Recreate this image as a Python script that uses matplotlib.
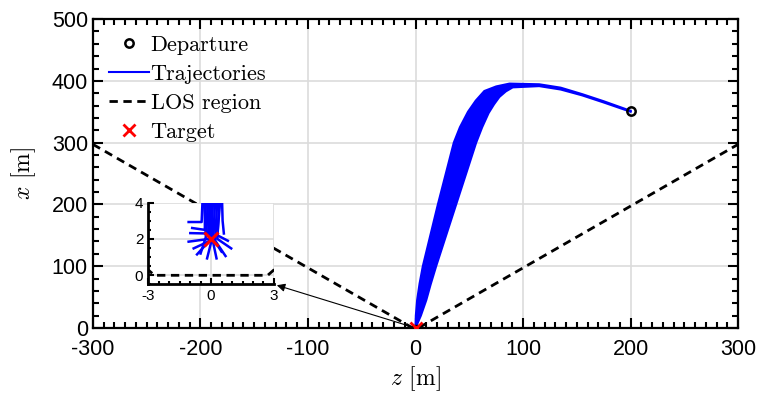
import numpy as np
import matplotlib
matplotlib.use("Agg")
import matplotlib.pyplot as plt
from matplotlib.ticker import MultipleLocator

plt.rcParams.update({
    "font.family": ["Liberation Sans", "DejaVu Sans"],
    "mathtext.fontset": "cm",
    "axes.unicode_minus": False,
})

BLUE = "#0000ff"
GRID = "#dcdcdc"

# departure and target
dep_z, dep_x = [200], [351]
tgt_z, tgt_x = [0], [0]

# outer / inner edge of the trajectory bundle (z, x) in metres
z_outer = [0, 0.3, 1.5, 3.8, 6.8, 13.8, 20.8, 28.2, 35.6, 41.3, 48.8, 56, 64, 75, 87.4, 115, 135, 155, 175, 200]
x_outer = [0, 20, 45, 72, 100, 150, 200, 250, 300, 325, 350, 368, 383.6, 391, 395.6, 394.5, 389, 378.5, 367, 351.5]
z_inner = [0, 5, 10, 14, 19.2, 28.5, 37.8, 47.1, 56.4, 62, 68, 73, 78, 84, 90.4, 115, 135, 155, 175, 200]
x_inner = [0, 20, 45, 70, 100, 150, 200, 250, 300, 325, 348, 362, 374, 383, 389.5, 391.5, 386, 376.5, 365, 350]

# LOS region boundary
los_z = [-300, -2.7, 2.7, 300]
los_x = [297.3, 0, 0, 297.3]

# zoomed view: end of the trajectories near the target
ins_tgt = (0, 2)
ins_top = [-0.40, -0.30, -0.20, -0.10, 0.00, 0.10, 0.20, 0.30, 0.40, 0.52, 0.45, -0.25, 0.05, -0.35]
ins_mid_x = [-0.45, -0.20, -0.10, -0.05, 0.00, 0.00, 0.10, 0.20, 0.30, 0.55, 0.30, -0.30, 0.05, -0.25]
ins_mid_y = [2.93, 2.30, 2.00, 1.90, 2.00, 1.80, 1.80, 1.90, 2.00, 3.00, 2.20, 2.50, 2.10, 2.10]
ins_end_x = [-1.07, -0.99, -1.07, -0.83, -0.67, -0.19, 0.26, 0.69, 0.96, 0.61, 0.80, -0.90, 0.50, -0.50]
ins_end_y = [2.93, 2.32, 1.85, 1.48, 1.15, 0.93, 0.93, 1.06, 1.48, 2.30, 1.90, 2.60, 1.30, 1.20]

fig = plt.figure(figsize=(7.61, 3.98), dpi=100)
ax = fig.add_axes([0.122, 0.176, 0.848, 0.776])

ax.plot(los_z, los_x, "k--", lw=2, dashes=(3, 2), zorder=2, label="LOS region")
ax.fill(z_outer + z_inner[::-1], x_outer + x_inner[::-1], color=BLUE, lw=0, zorder=3)
ax.plot(z_outer, x_outer, color=BLUE, lw=1.5, zorder=3, label="Trajectories")
ax.plot(z_inner, x_inner, color=BLUE, lw=1.5, zorder=3)
ax.plot(dep_z, dep_x, "o", ms=6, mfc="none", mec="k", mew=1.8, zorder=5, label="Departure")
ax.plot(tgt_z, tgt_x, "x", ms=8, color="red", mew=2, zorder=6, label="Target")
# small box marking the zoomed region
ax.add_patch(plt.Rectangle((-3, -0.5), 6, 4.5, fill=False, ec="k", lw=1, zorder=5))

ax.set_xlim(-300, 300)
ax.set_ylim(0, 500)
ax.xaxis.set_major_locator(MultipleLocator(100))
ax.xaxis.set_minor_locator(MultipleLocator(10))
ax.yaxis.set_major_locator(MultipleLocator(100))
ax.yaxis.set_minor_locator(MultipleLocator(20))
ax.tick_params(which="both", direction="in", top=True, right=True, labelsize=15.5, width=1.5)
ax.tick_params(which="major", length=7)
ax.tick_params(which="minor", length=4)
ax.tick_params(axis="x", pad=8)
ax.grid(True, which="major", color=GRID, lw=1.2, zorder=0)
ax.set_axisbelow(True)
for s in ax.spines.values():
    s.set_linewidth(1.6)
ax.set_xlabel(r"$z$ [m]", family="cmr10", fontsize=17, labelpad=3)
ax.set_ylabel(r"$x$ [m]", family="cmr10", fontsize=17, labelpad=10)

h, l = ax.get_legend_handles_labels()
order = [l.index(k) for k in ["Departure", "Trajectories", "LOS region", "Target"]]
ax.legend([h[i] for i in order], [l[i] for i in order], loc="upper left",
          frameon=False, prop={"family": "cmr10", "size": 16}, handlelength=1.8,
          handletextpad=0.05, labelspacing=0.42, borderaxespad=0.0,
          bbox_to_anchor=(0.012, 0.975))

# inset
axi = ax.inset_axes([0.0857, 0.141, 0.195, 0.265])
axi.set_facecolor("white")
axi.plot(los_z, los_x, "k--", lw=2, dashes=(3, 2), zorder=2)
for t, mx, my, ex, ey in zip(ins_top, ins_mid_x, ins_mid_y, ins_end_x, ins_end_y):
    axi.plot([t, mx, ex], [4.3, my, ey], color=BLUE, lw=1.8, zorder=3)
axi.plot(*ins_tgt, "x", ms=10, color="red", mew=2.2, zorder=6)
axi.set_xlim(-3, 3)
axi.set_ylim(-0.5, 4)
axi.set_xticks([-3, 0, 3])
axi.set_yticks([0, 2, 4])
axi.xaxis.set_minor_locator(MultipleLocator(0.5))
axi.yaxis.set_minor_locator(MultipleLocator(0.5))
axi.tick_params(which="both", direction="in", labelsize=11, width=1.5)
axi.tick_params(which="major", length=4)
axi.tick_params(which="minor", length=2.5)
axi.grid(True, which="major", color=GRID, lw=1.2)
axi.set_axisbelow(True)
axi.spines["top"].set_visible(False)
axi.spines["right"].set_visible(False)
axi.spines["left"].set_linewidth(2)
axi.spines["bottom"].set_linewidth(2)

ax.annotate("", xy=(0.281, 0.141), xycoords="axes fraction", xytext=(0, 0),
            textcoords="data",
            arrowprops=dict(arrowstyle="-|>", color="k", lw=0.8, mutation_scale=12),
            zorder=7)

fig.savefig("out.png", dpi=100)
